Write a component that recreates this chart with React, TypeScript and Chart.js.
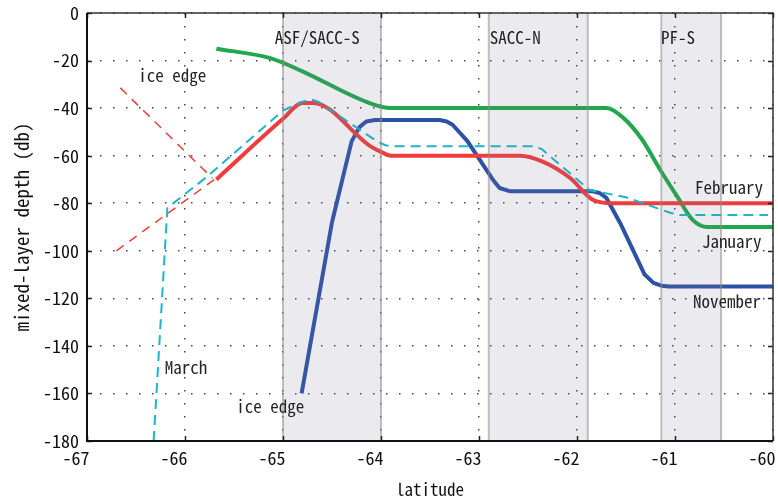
import React, { useEffect, useRef } from "react";
import { Chart, registerables } from "chart.js";

Chart.register(...registerables);

// ---- data ----
const januaryLat = [-65.68, -65.13, -64.83, -64.11, -63.9, -61.7, -61.53, -61.34, -61.15, -60.98, -60.82, -60.67, -60.0];
const januaryDepth = [-15, -19, -24, -38, -40, -40, -44, -53, -66, -77, -87, -90, -90];

const februaryLat = [-65.68, -65.0, -64.8, -64.69, -64.11, -64.0, -63.9, -62.58, -62.35, -62.07, -61.84, -61.63, -60.0];
const februaryDepth = [-70, -44.5, -37.8, -37.8, -56, -58.4, -60, -60, -62.5, -69.4, -78.5, -80, -80];

const marchLat = [-66.32, -66.18, -65.78, -65.0, -64.8, -64.72, -64.64, -64.04, -63.96, -63.91, -62.45, -62.36, -62.31, -61.87, -61.5, -61.05, -60.95, -60.05];
const marchDepth = [-180, -82, -69, -41, -37.3, -36.3, -37.3, -54, -55.5, -56, -56, -57.2, -59, -74.5, -77.5, -84, -85, -85];

const novemberLat = [-64.81, -64.5, -64.3, -64.22, -64.15, -64.06, -63.4, -63.33, -63.27, -63.12, -62.86, -62.79, -62.68, -61.84, -61.77, -61.7, -61.56, -61.31, -61.22, -61.14, -61.06, -60.0];
const novemberDepth = [-160, -88, -54, -48, -45.6, -45, -45, -45.6, -47, -53.8, -70, -73.6, -75, -75, -75.7, -77.8, -88.3, -110, -113.5, -114.7, -115, -115];

const iceEdgeUpperLat = [-66.66, -65.72];
const iceEdgeUpperDepth = [-31.5, -69.5];
const iceEdgeLowerLat = [-66.7, -65.7];
const iceEdgeLowerDepth = [-100, -70];

const bandStart = [-65.0, -62.9, -61.14];
const bandEnd = [-64.0, -61.89, -60.53];
const bandLabels = ["ASF/SACC-S", "SACC-N", "PF-S"];

const xTicks = [-67, -66, -65, -64, -63, -62, -61, -60];
const yTicks = [0, -20, -40, -60, -80, -100, -120, -140, -160, -180];

// text annotations (label, lat, depth)
const noteTexts = ["ice edge", "ice edge", "March", "February", "January", "November"];
const noteLat = [-66.13, -65.13, -65.99, -60.45, -60.42, -60.47];
const noteDepth = [-26.5, -165.7, -148.9, -73.2, -96.3, -121.5];
const bandLabelLat = [-64.65, -62.63, -60.97];
const bandLabelDepth = -10.5;

const FONT = '"Noto Sans Mono CJK JP", "Noto Sans CJK JP", "DejaVu Sans Mono", monospace';

const zip = (xs: number[], ys: number[]) => xs.map((x, i) => ({ x, y: ys[i] }));

const overlayPlugin = {
  id: "overlay",
  afterDatasetsDraw(chart: any) {
    const { ctx, chartArea: a, scales } = chart;
    const x = scales.x, y = scales.y;
    ctx.save();
    // shaded bands
    for (let i = 0; i < bandStart.length; i++) {
      const x0 = x.getPixelForValue(bandStart[i]);
      const x1 = x.getPixelForValue(bandEnd[i]);
      ctx.fillStyle = "rgba(120,120,145,0.15)";
      ctx.fillRect(x0, a.top, x1 - x0, a.bottom - a.top);
      ctx.strokeStyle = "rgba(150,140,140,0.55)";
      ctx.lineWidth = 2;
      ctx.beginPath();
      ctx.moveTo(x0, a.top);
      ctx.lineTo(x0, a.bottom);
      ctx.moveTo(x1, a.top);
      ctx.lineTo(x1, a.bottom);
      ctx.stroke();
    }
    // inward ticks
    ctx.strokeStyle = "#222";
    ctx.lineWidth = 1.5;
    ctx.beginPath();
    for (const v of yTicks) {
      const py = Math.round(y.getPixelForValue(v)) + 0.5;
      ctx.moveTo(a.left, py);
      ctx.lineTo(a.left + 5, py);
      ctx.moveTo(a.right, py);
      ctx.lineTo(a.right - 5, py);
    }
    for (const v of xTicks) {
      const px = Math.round(x.getPixelForValue(v)) + 0.5;
      ctx.moveTo(px, a.top);
      ctx.lineTo(px, a.top + 5);
      ctx.moveTo(px, a.bottom);
      ctx.lineTo(px, a.bottom - 5);
    }
    ctx.stroke();
    // frame
    ctx.strokeStyle = "#333";
    ctx.lineWidth = 1.5;
    ctx.beginPath();
    ctx.moveTo(a.left, a.top);
    ctx.lineTo(a.right, a.top);
    ctx.lineTo(a.right, a.bottom);
    ctx.stroke();
    ctx.strokeStyle = "#111";
    ctx.lineWidth = 2;
    ctx.beginPath();
    ctx.moveTo(a.left, a.top);
    ctx.lineTo(a.left, a.bottom);
    ctx.lineTo(a.right, a.bottom);
    ctx.stroke();
    // texts
    ctx.fillStyle = "#222";
    ctx.textAlign = "center";
    ctx.textBaseline = "middle";
    ctx.font = `17px ${FONT}`;
    for (let i = 0; i < bandLabels.length; i++) {
      ctx.fillText(bandLabels[i], x.getPixelForValue(bandLabelLat[i]), y.getPixelForValue(bandLabelDepth));
    }
    for (let i = 0; i < noteTexts.length; i++) {
      ctx.fillText(noteTexts[i], x.getPixelForValue(noteLat[i]), y.getPixelForValue(noteDepth[i]));
    }
    ctx.restore();
  },
};

export default function App() {
  const ref = useRef<HTMLCanvasElement | null>(null);
  useEffect(() => {
    const canvas = ref.current;
    if (!canvas) return;
    const chart = new Chart(canvas, {
      type: "line",
      data: {
        datasets: [
          {
            label: "March",
            data: zip(marchLat, marchDepth),
            borderColor: "#1ab6c9",
            borderWidth: 2,
            borderDash: [10, 6],
            pointRadius: 0,
            tension: 0,
            borderJoinStyle: "round",
          },
          {
            label: "February",
            data: zip(februaryLat, februaryDepth),
            borderColor: "#f03c3c",
            borderWidth: 4,
            pointRadius: 0,
            cubicInterpolationMode: "monotone",
          },
          {
            label: "November",
            data: zip(novemberLat, novemberDepth),
            borderColor: "#2c51a6",
            borderWidth: 4,
            pointRadius: 0,
            tension: 0,
            borderJoinStyle: "round",
          },
          {
            label: "January",
            data: zip(januaryLat, januaryDepth),
            borderColor: "#1fa84c",
            borderWidth: 4,
            pointRadius: 0,
            cubicInterpolationMode: "monotone",
          },
          {
            label: "ice edge (upper)",
            data: zip(iceEdgeUpperLat, iceEdgeUpperDepth),
            borderColor: "#f03c3c",
            borderWidth: 1.5,
            borderDash: [9, 7],
            pointRadius: 0,
          },
          {
            label: "ice edge (lower)",
            data: zip(iceEdgeLowerLat, iceEdgeLowerDepth),
            borderColor: "#f03c3c",
            borderWidth: 1.5,
            borderDash: [9, 7],
            pointRadius: 0,
          },
        ],
      },
      options: {
        responsive: false,
        devicePixelRatio: 1,
        animation: false,
        events: [],
        layout: { padding: { top: 13, right: 5, left: 0, bottom: 0 } },
        plugins: { legend: { display: false }, tooltip: { enabled: false } },
        scales: {
          x: {
            type: "linear",
            min: -67,
            max: -60,
            afterFit: (s: any) => {
              s.height = 62;
              s.paddingLeft = 0;
              s.paddingRight = 0;
            },
            afterBuildTicks: (s: any) => {
              s.ticks = xTicks.map((v) => ({ value: v }));
            },
            ticks: {
              padding: 6,
              labelOffset: -11,
              color: "#111",
              font: { family: FONT, size: 18 },
              maxRotation: 0,
              callback: (v: any) => String(v),
            },
            grid: { color: "#444", lineWidth: 1.5, drawTicks: false },
            border: { display: false, dash: [1.5, 11.5] },
            title: {
              display: true,
              text: "latitude",
              color: "#111",
              font: { family: FONT, size: 17 },
              padding: { top: 0, bottom: 3 },
            },
          },
          y: {
            type: "linear",
            min: -180,
            max: 0,
            afterFit: (s: any) => {
              s.width = 87;
              s.paddingTop = 0;
              s.paddingBottom = 0;
            },
            afterBuildTicks: (s: any) => {
              s.ticks = yTicks.map((v) => ({ value: v }));
            },
            ticks: {
              padding: 8,
              color: "#111",
              font: { family: FONT, size: 18 },
              callback: (v: any) => String(v),
            },
            grid: { color: "#444", lineWidth: 1.5, drawTicks: false },
            border: { display: false, dash: [1.5, 11.5] },
            title: {
              display: true,
              text: "mixed-layer depth (db)",
              color: "#111",
              font: { family: FONT, size: 19 },
              padding: { top: 10, bottom: 0 },
            },
          },
        },
      },
      plugins: [overlayPlugin],
    } as any);
    return () => chart.destroy();
  }, []);
  return (
    <div style={{ position: "fixed", left: 0, top: 0, width: 778, height: 503, background: "#fff" }}>
      <canvas ref={ref} width={778} height={503} style={{ display: "block", width: 778, height: 503 }} />
    </div>
  );
}
